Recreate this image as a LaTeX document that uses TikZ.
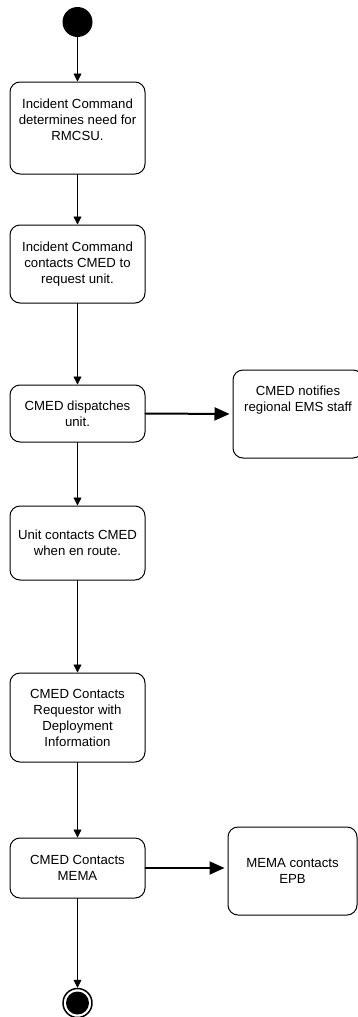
\documentclass[tikz,border=0pt]{standalone}
\usepackage{fontspec}
\setmainfont{Liberation Sans}
\usetikzlibrary{arrows.meta}
\begin{document}
\begin{tikzpicture}[x=1pt,y=-1pt,line cap=round,line join=round,
  every node/.style={font=\fontsize{13.2}{16}\selectfont},
  act/.style={draw,line width=1pt,rounded corners=10pt,align=center,minimum width=135pt,inner sep=0pt},
  flow/.style={-{Triangle[length=8pt,width=8pt]},line width=0.8pt},
  bigflow/.style={-{Triangle[length=15pt,width=13pt]},line width=2pt,shorten >=3pt}]
  \useasboundingbox (0,0) rectangle (357,1017);
  \node[circle,fill,inner sep=0pt,minimum size=30pt] (start) at (77.5,22) {};
  \node[act,minimum height=92pt,text depth=16pt] (need) at (77.5,128) {Incident Command\\determines need for\\RMCSU.};
  \node[act,minimum height=78pt] (request) at (77.5,264) {Incident Command\\contacts CMED to\\request unit.};
  \node[act,minimum height=57pt] (dispatch) at (77.5,413.5) {CMED dispatches\\unit.};
  \node[act,minimum height=74pt] (enroute) at (77.5,543) {Unit contacts CMED\\when en route.};
  \node[act,minimum height=89pt] (inform) at (77.5,717.5) {CMED Contacts\\Requestor with\\Deployment\\Information};
  \node[act,minimum height=60pt] (mema) at (77.5,868) {CMED Contacts\\MEMA};
  \node[act,minimum width=130pt,minimum height=88pt,text depth=30pt] (notify) at (298,414) {CMED notifies\\regional EMS staff};
  \node[act,minimum width=129pt,minimum height=88pt] (epb) at (292.5,871) {MEMA contacts\\EPB};
  \node[circle,draw,line width=1.5pt,inner sep=0pt,minimum size=29pt] (end) at (77.5,1003) {};
  \node[circle,fill,inner sep=0pt,minimum size=23pt] (endcore) at (end) {};
  \draw[flow] (start) -- (need);
  \draw[flow] (need) -- (request);
  \draw[flow] (request) -- (dispatch);
  \draw[flow] (dispatch) -- (enroute);
  \draw[flow] (enroute) -- (inform);
  \draw[flow] (inform) -- (mema);
  \draw[flow] (mema) -- (end);
  \draw[bigflow] (dispatch.east) -- (notify.west);
  \draw[bigflow] (mema.east) -- (mema.east -| epb.west);
\end{tikzpicture}
\end{document}
